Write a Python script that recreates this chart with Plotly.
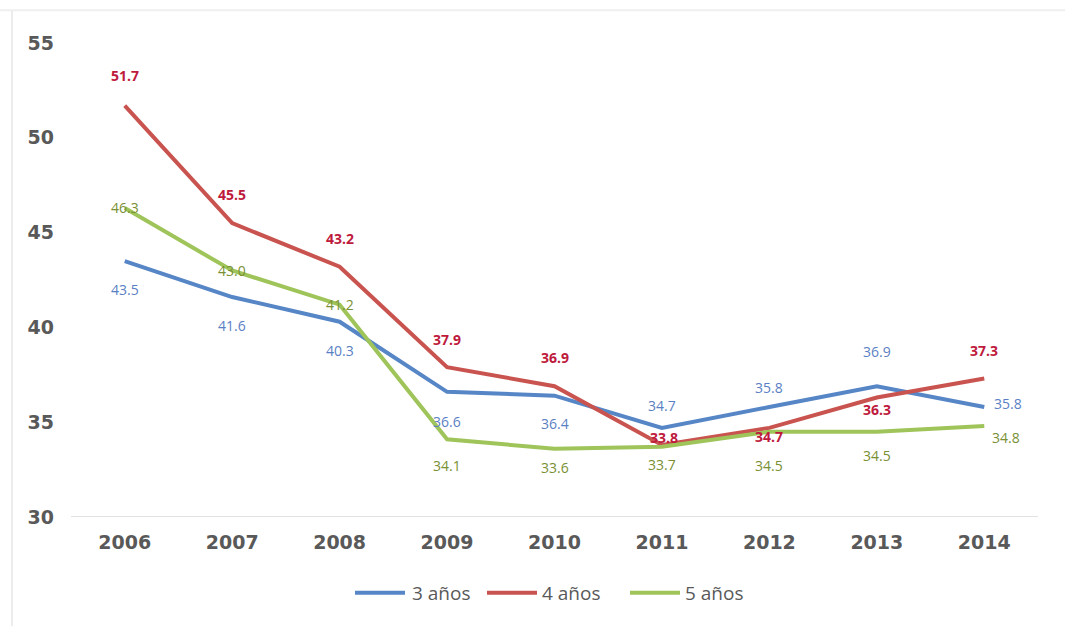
import plotly.graph_objects as go

# --- data ---
years = ["2006", "2007", "2008", "2009", "2010", "2011", "2012", "2013", "2014"]
tres_anos = [43.5, 41.6, 40.3, 36.6, 36.4, 34.7, 35.8, 36.9, 35.8]
cuatro_anos = [51.7, 45.5, 43.2, 37.9, 36.9, 33.8, 34.7, 36.3, 37.3]
cinco_anos = [46.3, 43.0, 41.2, 34.1, 33.6, 33.7, 34.5, 34.5, 34.8]
series_names = ["3 años", "4 años", "5 años"]
y_ticks = [30, 35, 40, 45, 50, 55]

# --- styles ---
line_colors = ["#5686c6", "#c9534f", "#9fc45a"]
label_colors = ["#5b7fc4", "#be1a3c", "#7a9034"]
label_weights = [400, 700, 400]

# label offsets (xshift, yshift) in px per point
offsets = [
    [(0, -28), (0, -28), (0, -29), (0, -30), (0, -28), (0, 22), (0, 20), (0, 35), (24, 4)],
    [(0, 30), (0, 29), (0, 28), (0, 28), (0, 29), (2, 7), (0, -9), (0, -12), (0, 28)],
    [(0, 0), (0, 0), (0, 0), (0, -26), (0, -19), (0, -18), (0, -34), (0, -24), (22, -12)],
]

# legend entry positions (paper x of line start, line end, text start)
legend_pos = [(0.2937, 0.3454, 0.3506), (0.4302, 0.4819, 0.4850), (0.5781, 0.6298, 0.6329)]
legend_y = -0.160

all_series = [tres_anos, cuatro_anos, cinco_anos]

fig = go.Figure()
for name, vals, col in zip(series_names, all_series, line_colors):
    fig.add_trace(go.Scatter(
        x=years, y=vals, name=name, mode="lines",
        line=dict(color=col, width=4), showlegend=False,
    ))

annotations = []
for vals, offs, lc, lw in zip(all_series, offsets, label_colors, label_weights):
    for i, (v, (dx, dy)) in enumerate(zip(vals, offs)):
        annotations.append(dict(
            x=i, y=v, xref="x", yref="y", text=f"{v:.1f}",
            showarrow=False, xshift=dx, yshift=dy,
            font=dict(family="Open Sans", size=14, color=lc, weight=lw),
        ))

shapes = [
    # baseline at the bottom of the value axis
    dict(type="line", xref="paper", yref="y", x0=0, x1=1.0, y0=30, y1=30,
         line=dict(color="#d9d9d9", width=1.5), layer="below"),
    # faint chart frame (top and left)
    dict(type="line", xref="paper", yref="paper", x0=-0.08, x1=1.03,
         y0=1.069, y1=1.069, line=dict(color="#efefef", width=2)),
    dict(type="line", xref="paper", yref="paper", x0=-0.061, x1=-0.061,
         y0=1.069, y1=-0.24, line=dict(color="#ececec", width=2)),
]

# legend: long line swatches followed by the series name
for name, col, (lx0, lx1, tx) in zip(series_names, line_colors, legend_pos):
    shapes.append(dict(type="line", xref="paper", yref="paper", x0=lx0, x1=lx1,
                       y0=legend_y, y1=legend_y, line=dict(color=col, width=4)))
    annotations.append(dict(x=tx, y=legend_y, xref="paper", yref="paper",
                            text=name, showarrow=False, xanchor="left", yanchor="middle",
                            font=dict(family="Open Sans", size=19, color="#595959")))

tick_font = dict(family="DejaVu Sans", size=19, color="#595959", weight="bold")

fig.update_layout(
    width=1065, height=626,
    margin=dict(l=71, r=27, t=43, b=109),
    paper_bgcolor="white", plot_bgcolor="white",
    showlegend=False,
    xaxis=dict(
        type="category", range=[-0.5, 8.5],
        showgrid=False, zeroline=False, showline=False,
        ticks="", tickfont=tick_font, ticklabelstandoff=12,
    ),
    yaxis=dict(
        range=[30, 55], tickvals=y_ticks,
        showgrid=False, zeroline=False, showline=False,
        ticks="", tickfont=tick_font, ticklabelstandoff=16,
    ),
    annotations=annotations,
    shapes=shapes,
)

fig.write_html("out.html")
